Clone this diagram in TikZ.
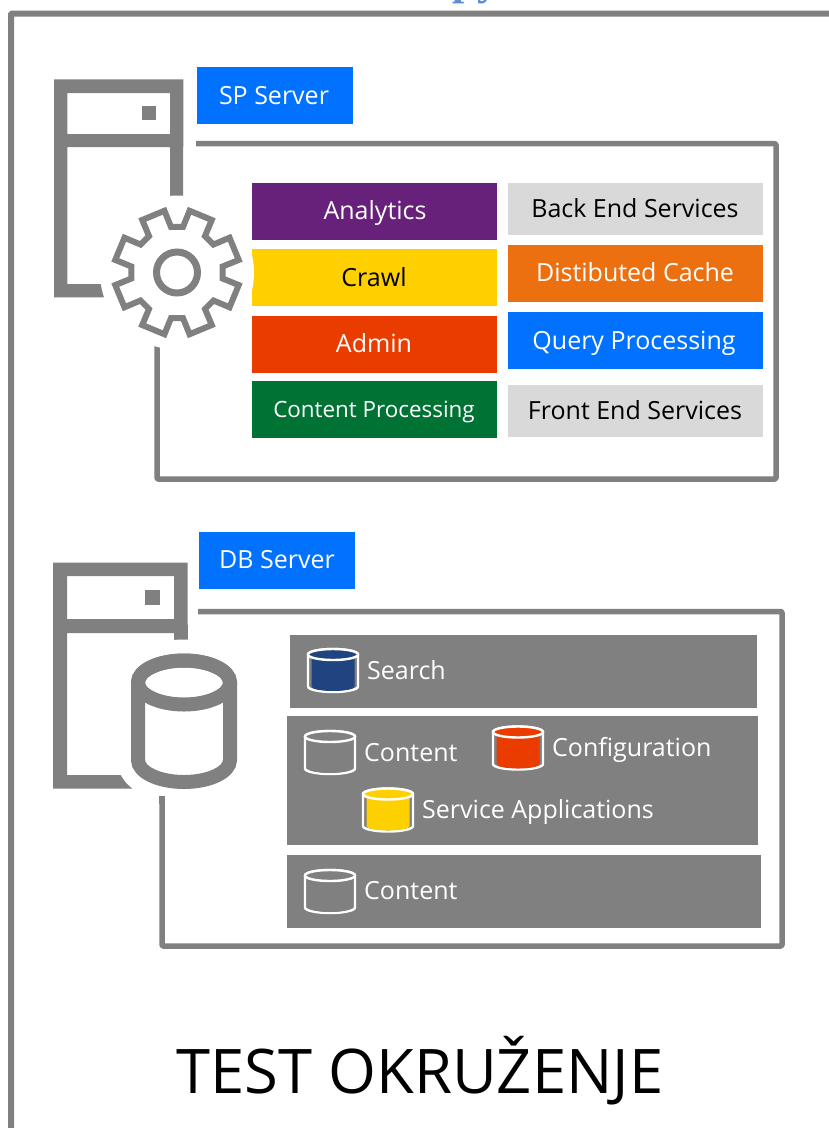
\documentclass[tikz,border=0pt]{standalone}
\usepackage{fontspec}
\setmainfont{Open Sans}
\definecolor{gr}{HTML}{808080}
\definecolor{blu}{HTML}{0072FF}
\definecolor{pur}{HTML}{68217A}
\definecolor{yel}{HTML}{FFD000}
\definecolor{redd}{HTML}{EB3C00}
\definecolor{grn}{HTML}{007233}
\definecolor{lgr}{HTML}{D9D9D9}
\definecolor{org}{HTML}{EC7010}
\definecolor{nav}{HTML}{1F4480}
\definecolor{ttl}{HTML}{5B8FD5}
\newfontfamily\serfont{Liberation Serif}
\tikzset{
 x=1pt,y=-1pt,
 box/.style={rectangle,inner sep=0pt,outer sep=0pt,anchor=north west},
 txt/.style={inner sep=0pt,anchor=base,font=\fontsize{25}{25}\selectfont},
 lbl/.style={inner sep=0pt,anchor=base west,text=white,font=\fontsize{25}{25}\selectfont},
 frame/.style={draw=gr,line width=5.5pt,line join=round,rounded corners=1pt},
}
\newcommand{\bx}[6]{\node[box,fill=#6,minimum width=#3pt-#1pt,minimum height=#4pt-#2pt] (#5) at (#1,#2) {};}
\newcommand{\cylpath}[4]{(#1-#3,#2) -- (#1-#3,#4) arc[start angle=180,end angle=0,x radius=#3,y radius=22] -- (#1+#3,#2) arc[start angle=0,end angle=-180,x radius=#3,y radius=22] -- cycle}
\newcommand{\smallcyl}[3]{%
 \begin{scope}[shift={(#1,#2)}]
 \draw[white,line width=2.4pt,fill=gr] (-25,0) -- (-25,32) arc[start angle=180,end angle=0,x radius=25,y radius=5.5] -- (25,0) arc[start angle=0,end angle=-180,x radius=25,y radius=5.5] -- cycle;
 \fill[#3] (-21.5,0) -- (-21.5,32) arc[start angle=180,end angle=0,x radius=21.5,y radius=4.5] -- (21.5,0) -- cycle;
 \draw[white,line width=2.4pt,fill=#3] (0,0) ellipse[x radius=25,y radius=5.5];
 \end{scope}}
\begin{document}
\begin{tikzpicture}
\useasboundingbox (0,0) rectangle (829,1128);
\clip (0,0) rectangle (829,1128);
\fill[white] (0,0) rectangle (829,1128);
% title fragment
\node[inner sep=0pt,anchor=base,text=ttl,font=\serfont\bfseries\fontsize{44}{44}\selectfont] (ttlfrag) at (476,-6) {py};
% outer frame
\draw[draw=gr,line width=6pt,rounded corners=1pt] (11,1140) -- (11,13.7) -- (840,13.7);
% SP server
\fill[gr,even odd rule] (54,79.3) rectangle (183.3,297.3) (67.3,93) rectangle (170,134) (67.3,147) rectangle (183.3,284);
\fill[gr] (170,140) rectangle (183.3,197);
\fill[gr] (142,106) rectangle (156,120);
\draw[frame] (196,143.7) -- (776,143.7) -- (776,479) -- (157,479) -- (157,330);
\bx{252}{183}{497}{240}{ana}{pur}
\bx{252}{249}{497}{306}{cra}{yel}
\bx{252}{316}{497}{373}{adm}{redd}
\bx{252}{381}{497}{438}{con}{grn}
\bx{508}{183}{763}{235}{bes}{lgr}
\bx{508}{245}{763}{302}{dis}{org}
\bx{508}{312}{763}{369}{que}{blu}
\bx{508}{385}{763}{437}{fes}{lgr}
\bx{197}{67}{353}{124}{sps}{blu}
\node[txt,text=white] (t1) at (375,219) {Analytics};
\node[txt,text=black] (t2) at (374,286) {Crawl};
\node[txt,text=white] (t3) at (374,352) {Admin};
\node[txt,text=white,font=\fontsize{22.4}{22.4}\selectfont] (t4) at (374,417) {Content Processing};
\node[txt,text=black] (t5) at (635,217) {Back End Services};
\node[txt,text=white] (t6) at (635,281) {Distibuted Cache};
\node[txt,text=white] (t7) at (634,349) {Query Processing};
\node[txt,text=black] (t8) at (635,419) {Front End Services};
\node[txt,text=white] (t9) at (274,104) {SP Server};
% gear
\fill[white] (177,272.5) circle (77);
\begin{scope}[shift={(177,272.5)}]
\draw[gr,line width=6pt,line join=miter,fill=white]
 (82.5:46) \foreach \k in {0,...,7}{
  -- ({90+45*\k-7.5}:46) -- ({90+45*\k+7.5}:46) -- ({90+45*\k+22.5-11}:63) -- ({90+45*\k+22.5+11}:63)
 } -- cycle;
\draw[gr,line width=7pt] (0,0) circle (20.5);
\end{scope}
% DB server
\bx{199}{532}{355}{589}{dbs}{blu}
\node[txt,text=white] (t10) at (277,568) {DB Server};
\fill[gr,even odd rule] (53,562.7) rectangle (187.7,788.7) (67,576) rectangle (174,619) (67,633) rectangle (187.7,775);
\fill[gr] (174,625) rectangle (187.7,654);
\fill[gr] (145,590) rectangle (160,605);
\draw[frame] (198,611.5) -- (782,611.5) -- (782,946) -- (162,946) -- (162,796);
\draw[white,line width=42pt,fill=white,line join=round] \cylpath{184}{682.5}{46}{760};
\draw[gr,line width=14pt,fill=white] \cylpath{184}{682.5}{46}{760};
\draw[gr,line width=14pt] (184,682.5) ellipse[x radius=46,y radius=22];
\draw[gr,line width=5.5pt] (162,796) -- (162,804);
\bx{290}{635}{757}{708}{r1}{gr}
\bx{287}{716}{758}{845}{r2}{gr}
\bx{287}{855}{761}{928}{r3}{gr}
\smallcyl{333}{654.5}{nav}
\smallcyl{330}{736.5}{gr}
\smallcyl{518}{732}{redd}
\smallcyl{388}{794}{yel}
\smallcyl{330}{875.5}{gr}
\node[lbl] (l1) at (367,679) {Search};
\node[lbl] (l2) at (364,761) {Content};
\node[lbl] (l3) at (552,756) {Configuration};
\node[lbl] (l4) at (422,818) {Service Applications};
\node[lbl] (l5) at (364,899) {Content};
\node[inner sep=0pt,anchor=base,font=\fontsize{61.5}{61.5}\selectfont] (ttl) at (420,1093.5) {TEST OKRUŽENJE};
\end{tikzpicture}
\end{document}
